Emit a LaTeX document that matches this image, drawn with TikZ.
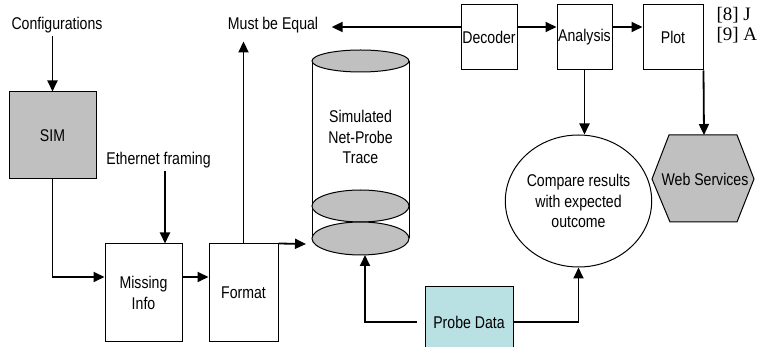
\documentclass[tikz,border=0pt]{standalone}
\usepackage{fontspec}
\setmainfont{Liberation Sans}[FakeStretch=0.83]
\newfontfamily\refserif{Liberation Serif}
\usetikzlibrary{arrows.meta,shapes.geometric}
\definecolor{simgray}{HTML}{C0C0C0}
\definecolor{probecyan}{HTML}{B9E1E4}

\begin{document}
\begin{tikzpicture}[x=1pt, y=-1pt,
		every node/.style={text centered, align=center, font=\fontsize{17}{20.5}\selectfont},
		blk/.style={rectangle, draw, line width=1pt, inner sep=0pt},
		arr/.style={-{Triangle[length=11pt,width=10pt]}, line width=1.8pt}]
	\useasboundingbox (0,0) rectangle (758,347);

	% left chain
	\node (config) at (57,25) {Configurations};
	\node[blk, fill=simgray, minimum width=87pt, minimum height=87pt] (sim) at (52.5,135.5) {SIM};
	\node (eth) at (158.5,160) {Ethernet framing};
	\node[blk, minimum width=77pt, minimum height=98pt] (missing) at (143.5,293) {Missing\\Info};
	\node[blk, minimum width=69pt, minimum height=98pt] (format) at (243.5,293) {Format};
	\node (equal) at (273,25) {Must be Equal};

	% trace store
	\draw[line width=1pt] (312,61) -- (312,238) (409,61) -- (409,238);
	\draw[line width=1pt, fill=simgray] (360.5,61) ellipse [x radius=48.5, y radius=11];
	\draw[line width=1pt, fill=simgray] (360.5,206) ellipse [x radius=48.5, y radius=16];
	\draw[line width=1pt, fill=simgray] (360.5,238.5) ellipse [x radius=48.5, y radius=16.5];
	\node (trace) at (360.5,137) {Simulated\\Net-Probe\\Trace};

	% top row
	\node[blk, minimum width=56pt, minimum height=65pt] (decoder) at (489,37.5) {Decoder};
	\node[blk, minimum width=55pt, minimum height=65pt] (analysis) at (584.5,37.5) {Analysis};
	\node[blk, minimum width=60pt, minimum height=65pt] (plot) at (673,37.5) {Plot};

	\node[ellipse, draw, line width=1pt, inner sep=0pt, minimum width=113pt, minimum height=132pt] (compare) at (578.5,201)
		{Compare results\\with expected\\outcome};
	\draw[line width=1pt, fill=simgray] (652,179) -- (669,135) -- (737,135) -- (754,179) -- (737,222) -- (670,222) -- cycle;
	\node (web) at (705,179) {Web Services};
	\node[blk, fill=probecyan, minimum width=88pt, minimum height=70pt] (probe) at (469,322) {Probe Data};

	% page text behind the figure
	\node[anchor=west, font=\refserif\fontsize{19}{20}\selectfont] (ref8) at (713,15) {[8] J};
	\node[anchor=west, font=\refserif\fontsize{19}{20}\selectfont] (ref9) at (713,35) {[9] A};

	\coordinate (row) at (0,277);
	\coordinate (top) at (0,27);
	\coordinate (ethx) at (165,0);
	\coordinate (cylin) at (306,244);
	\coordinate (tracebot) at (365,255);
	\coordinate (webtop) at (704,135);

	\draw[arr] (sim.north |- config.south) -- (sim.north);
	\draw[arr] (sim.south) |- (missing.west |- row);
	\draw[arr] (ethx |- eth.south) -- (ethx |- missing.north);
	\draw[arr] (missing.east |- row) -- (format.west |- row);
	\draw[arr] (format.north east) -- (cylin);
	\draw[arr, shorten >=5pt] (format.north) -- (format.north |- equal.south);
	\draw[arr, shorten >=10pt] (decoder.west |- top) -- (equal.east |- top);
	\draw[arr] (decoder.east |- top) -- (analysis.west |- top);
	\draw[arr] (analysis.east |- top) -- (plot.west |- top);
	\draw[arr] (analysis.south) -- (analysis.south |- compare.north);
	\draw[arr] (plot.south east) -- (webtop);
	\draw[arr, shorten <=8pt] (probe.west) -| (tracebot);
	\draw[arr] (probe.east) -| (compare.south);
\end{tikzpicture}
\end{document}
